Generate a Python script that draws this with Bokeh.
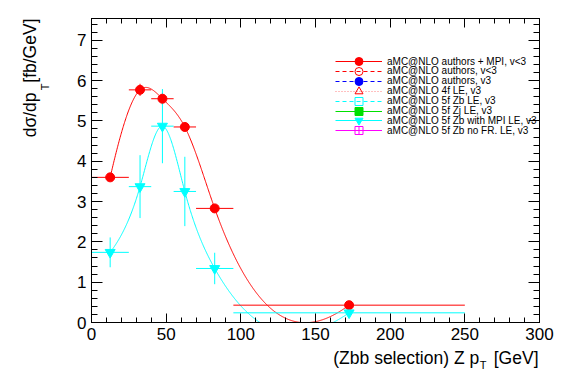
import numpy as np
from bokeh.plotting import figure
from bokeh.models import (Range1d, LinearAxis, SingleIntervalTicker, Title,
                          Legend, LegendItem)
from bokeh.embed import file_html
from bokeh.resources import INLINE

# ---------------- data ----------------
bin_lo = [0, 25, 40, 55, 70, 95]
bin_hi = [25, 40, 55, 70, 95, 250]
mpi_vlt3 = [3.60, 5.77, 5.55, 4.85, 2.83, 0.43]
mpi_vlt3_err = [0.06, 0.15, 0.15, 0.11, 0.08, 0.03]
zb_mpi_v3 = [1.74, 3.37, 4.87, 3.25, 1.34, 0.24]
zb_mpi_v3_err = [0.37, 0.78, 0.92, 0.86, 0.39, 0.03]

legend_labels = [
    "aMC@NLO authors + MPI, v<3",
    "aMC@NLO authors, v<3",
    "aMC@NLO authors, v3",
    "aMC@NLO 4f LE, v3",
    "aMC@NLO 5f Zb LE, v3",
    "aMC@NLO 5f Zj LE, v3",
    "aMC@NLO 5f Zb with MPI LE, v3",
    "aMC@NLO 5f Zb no FR. LE, v3",
]
x_title = "(Zbb selection) Z p\u00a0\u00a0\u00a0[GeV]"
y_title = "dσ/dp\u00a0\u00a0[fb/GeV]"
sub_T = "T"
x_ticks_major = 50
y_ticks_major = 1
X_MAX = 300
Y_MAX = 7.54

FONT = "Liberation Sans"
RED = "#ff0000"
CYAN = "#00ffff"

# canvas / frame geometry (pixels)
W, H = 559, 376
LEFT, RIGHT, TOP, BOTTOM = 91, 20, 18, 54
END_K = 0.3   # end-curvature ratio of the smoothing spline


def spline_m(t, v):
    n = len(t)
    h = np.diff(t)
    A = np.zeros((n, n))
    r = np.zeros(n)
    A[0, 0], A[0, 1] = 1.0, -END_K
    A[-1, -1], A[-1, -2] = 1.0, -END_K
    for i in range(1, n - 1):
        A[i, i - 1] = h[i - 1]
        A[i, i] = 2 * (h[i - 1] + h[i])
        A[i, i + 1] = h[i]
        r[i] = 6 * ((v[i + 1] - v[i]) / h[i] - (v[i] - v[i - 1]) / h[i - 1])
    return np.linalg.solve(A, r)


def spline_eval(t, v, M, tt):
    n = len(t)
    i = np.clip(np.searchsorted(t, tt) - 1, 0, n - 2)
    h = t[i + 1] - t[i]
    a = (t[i + 1] - tt) / h
    b = (tt - t[i]) / h
    return a * v[i] + b * v[i + 1] + ((a ** 3 - a) * M[i] + (b ** 3 - b) * M[i + 1]) * h * h / 6


def smooth_curve(xs, ys, n=600):
    t = np.asarray(xs, float)
    v = np.asarray(ys, float)
    M = spline_m(t, v)
    tt = np.linspace(t[0], t[-1], n)
    return tt, spline_eval(t, v, M, tt)


centers = [(a + b) / 2 for a, b in zip(bin_lo, bin_hi)]

p = figure(width=W, height=H, output_backend="svg", toolbar_location=None,
           x_range=Range1d(0, X_MAX), y_range=Range1d(0, Y_MAX),
           min_border_left=LEFT, min_border_right=RIGHT,
           min_border_top=TOP, min_border_bottom=BOTTOM,
           background_fill_color="white", border_fill_color="white")
p.outline_line_color = "black"
p.outline_line_width = 1
p.xgrid.visible = False
p.ygrid.visible = False


def style_axis(ax, major_in, minor_in, labels):
    ax.axis_line_color = "black"
    ax.major_tick_line_color = "black"
    ax.minor_tick_line_color = "black"
    ax.major_tick_in = major_in
    ax.major_tick_out = 0
    ax.minor_tick_in = minor_in
    ax.minor_tick_out = 0
    if labels:
        ax.major_label_text_font = FONT
        ax.major_label_text_font_size = "17px"
        ax.major_label_text_color = "black"
        ax.major_label_standoff = 5
    else:
        ax.major_label_text_font_size = "1px"
        ax.major_label_text_color = None
        ax.major_label_standoff = 0


p.xaxis.ticker = SingleIntervalTicker(interval=x_ticks_major, num_minor_ticks=5)
p.yaxis.ticker = SingleIntervalTicker(interval=y_ticks_major, num_minor_ticks=5)
style_axis(p.xaxis[0], 9, 5, True)
style_axis(p.yaxis[0], 11, 6, True)
top_ax = LinearAxis(ticker=SingleIntervalTicker(interval=x_ticks_major, num_minor_ticks=5))
right_ax = LinearAxis(ticker=SingleIntervalTicker(interval=y_ticks_major, num_minor_ticks=5))
style_axis(top_ax, 9, 5, False)
style_axis(right_ax, 11, 6, False)
p.add_layout(top_ax, "above")
p.add_layout(right_ax, "right")

# ---------- series with data ----------
rx, ry = smooth_curve(centers, mpi_vlt3)
cx, cy = smooth_curve(centers, zb_mpi_v3)

red_line = p.line(rx, ry, line_color=RED, line_width=1)
cyan_line = p.line(cx, cy, line_color=CYAN, line_width=1)

p.segment(x0=bin_lo, x1=bin_hi, y0=mpi_vlt3, y1=mpi_vlt3, line_color=RED, line_width=1)
p.segment(x0=centers, x1=centers,
          y0=[v - e for v, e in zip(mpi_vlt3, mpi_vlt3_err)],
          y1=[v + e for v, e in zip(mpi_vlt3, mpi_vlt3_err)], line_color=RED, line_width=1)
p.segment(x0=bin_lo, x1=bin_hi, y0=zb_mpi_v3, y1=zb_mpi_v3, line_color=CYAN, line_width=1)
p.segment(x0=centers, x1=centers,
          y0=[v - e for v, e in zip(zb_mpi_v3, zb_mpi_v3_err)],
          y1=[v + e for v, e in zip(zb_mpi_v3, zb_mpi_v3_err)], line_color=CYAN, line_width=1)

red_pts = p.scatter(centers, mpi_vlt3, marker="circle", size=9,
                    fill_color=RED, line_color=RED)
cyan_pts = p.scatter(centers, zb_mpi_v3, marker="inverted_triangle", size=10,
                     fill_color=CYAN, line_color=CYAN)

# ---------- legend (legend-only series have no points in this selection) ----------
styles = [
    None,
    dict(lc=RED, dash="4 3", marker="circle", fill=None, mc=RED),
    dict(lc="#0000ff", dash="4 3", marker="circle", fill="#0000ff", mc="#0000ff"),
    dict(lc="#ff8080", dash="1 2", marker="triangle", fill=None, mc=RED),
    dict(lc=CYAN, dash="4 3", marker="square", fill=None, mc=CYAN),
    dict(lc="#00e000", dash="solid", marker="square", fill="#00e000", mc="#00e000"),
    None,
    dict(lc="#ff00ff", dash="solid", marker="square_cross", fill=None, mc="#ff00ff"),
]
LEG_X = 244
LEG_ROW0 = 261
LEG_DY = 9.9
for i, (lab_txt, st) in enumerate(zip(legend_labels, styles)):
    if i == 0:
        rs = [red_line, red_pts]
    elif i == 6:
        rs = [cyan_line, cyan_pts]
    else:
        l = p.line(x=[np.nan], y=[np.nan], line_color=st["lc"], line_dash=st["dash"], line_width=1)
        s = p.scatter(x=[np.nan], y=[np.nan], marker=st["marker"], size=9,
                      fill_color=st["fill"], line_color=st["mc"])
        rs = [l, s]
    row_c = LEG_ROW0 - LEG_DY * i
    lg = Legend(items=[LegendItem(label=lab_txt, renderers=rs)],
                location=(LEG_X, row_c - 10),
                background_fill_alpha=0, border_line_alpha=0,
                label_text_font=FONT, label_text_font_size="10px",
                label_text_color="black",
                glyph_width=47, glyph_height=20, label_height=10,
                spacing=0, padding=0, margin=0, label_standoff=5)
    p.add_layout(lg)

# ---------- axis titles (side-panel titles, not clipped by the frame) ----------
def title(text, size, align, valign, offset, standoff):
    return Title(text=text, align=align, vertical_align=valign, offset=offset,
                 standoff=standoff, text_font=FONT, text_font_size=size,
                 text_font_style="normal", text_color="black")

p.add_layout(title(x_title, "17.5px", "right", "top", 1, 10), "below")
p.add_layout(title(sub_T, "11px", "right", "top", 53, -32), "below")

p.add_layout(title(sub_T, "11px", "right", "top", 65, 44), "left")
p.add_layout(title(y_title, "17.5px", "right", "bottom", 0, -46), "left")

open("out.html", "w").write(file_html(p, INLINE))
